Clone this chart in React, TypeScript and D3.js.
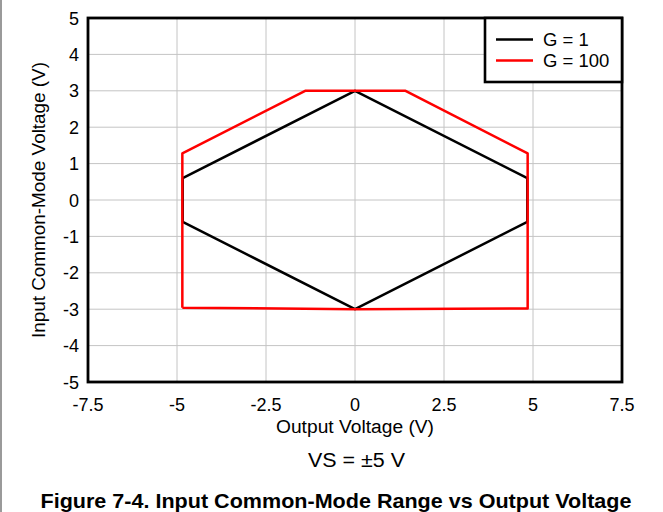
import React from "react";
import * as d3 from "d3";

const xTicks = [-7.5, -5, -2.5, 0, 2.5, 5, 7.5];
const yTicks = [-5, -4, -3, -2, -1, 0, 1, 2, 3, 4, 5];

const g1X = [-4.84, 0, 4.84, 4.84, 0, -4.84, -4.84];
const g1Y = [0.6, 3, 0.6, -0.6, -3, -0.6, 0.6];

const g100X = [-4.85, -4.85, -1.4, 1.42, 4.85, 4.85, 0, -4.85];
const g100Y = [-2.96, 1.28, 3, 3, 1.28, -2.98, -3.0, -2.96];

const seriesNames = ["G = 1", "G = 100"];
const seriesColors = ["#000000", "#ff0000"];

const W = 663;
const H = 512;
const M = { left: 88, right: 622, top: 18, bottom: 382 };
const FONT = "'Liberation Sans', Arial, sans-serif";

export default function App() {
  const x = d3.scaleLinear().domain([-7.5, 7.5]).range([M.left, M.right]);
  const y = d3.scaleLinear().domain([-5, 5]).range([M.bottom, M.top]);
  const line = d3
    .line<[number, number]>()
    .x((d) => x(d[0]))
    .y((d) => y(d[1]));
  const s1 = g1X.map((v, i) => [v, g1Y[i]] as [number, number]);
  const s2 = g100X.map((v, i) => [v, g100Y[i]] as [number, number]);

  return (
    <svg
      width={W}
      height={H}
      style={{ position: "absolute", left: 0, top: 0, background: "#fff" }}
    >
      <rect x={0} y={0} width={W} height={H} fill="#fff" />
      <line x1={1} x2={1} y1={0} y2={H} stroke="#9a9a9a" strokeWidth={2} />
      {/* grid */}
      {xTicks.map((t) => (
        <line
          key={"gx" + t}
          x1={x(t)}
          x2={x(t)}
          y1={M.top}
          y2={M.bottom}
          stroke="#c4c4c4"
          strokeWidth={1}
        />
      ))}
      {yTicks.map((t) => (
        <line
          key={"gy" + t}
          x1={M.left}
          x2={M.right}
          y1={y(t)}
          y2={y(t)}
          stroke="#c4c4c4"
          strokeWidth={1}
        />
      ))}
      {/* data */}
      <path
        d={line(s1) || ""}
        fill="none"
        stroke={seriesColors[0]}
        strokeWidth={2.5}
        strokeLinejoin="round"
      />
      <path
        d={line(s2) || ""}
        fill="none"
        stroke={seriesColors[1]}
        strokeWidth={2.5}
        strokeLinejoin="round"
      />
      {/* frame */}
      <rect
        x={M.left}
        y={M.top}
        width={M.right - M.left}
        height={M.bottom - M.top}
        fill="none"
        stroke="#000"
        strokeWidth={2.8}
      />
      {/* tick labels */}
      {xTicks.map((t) => (
        <text
          key={"tx" + t}
          x={x(t)}
          y={411}
          textAnchor="middle"
          fontFamily={FONT}
          fontSize={18}
          fill="#000"
        >
          {String(t)}
        </text>
      ))}
      {yTicks.map((t) => (
        <text
          key={"ty" + t}
          x={79}
          y={y(t) + 6.5}
          textAnchor="end"
          fontFamily={FONT}
          fontSize={18}
          fill="#000"
        >
          {String(t)}
        </text>
      ))}
      {/* axis titles */}
      <text
        x={355}
        y={433}
        textAnchor="middle"
        fontFamily={FONT}
        fontSize={18}
        fill="#000"
        textLength={158}
        lengthAdjust="spacingAndGlyphs"
      >
        Output Voltage (V)
      </text>
      <text
        transform={`translate(45,${(M.top + M.bottom) / 2}) rotate(-90)`}
        textAnchor="middle"
        fontFamily={FONT}
        fontSize={18}
        fill="#000"
        textLength={276}
        lengthAdjust="spacingAndGlyphs"
      >
        Input Common-Mode Voltage (V)
      </text>
      <text
        x={356.5}
        y={467}
        textAnchor="middle"
        fontFamily={FONT}
        fontSize={19.5}
        fill="#000"
        textLength={97}
        lengthAdjust="spacingAndGlyphs"
      >
        VS = ±5 V
      </text>
      <text
        x={336}
        y={508}
        textAnchor="middle"
        fontFamily={FONT}
        fontSize={20.5}
        fontWeight="bold"
        fill="#000"
        textLength={591}
        lengthAdjust="spacingAndGlyphs"
      >
        Figure 7-4. Input Common-Mode Range vs Output Voltage
      </text>
      {/* legend */}
      <rect
        x={485}
        y={M.top}
        width={M.right - 485}
        height={64}
        fill="#fff"
        stroke="#000"
        strokeWidth={2.6}
      />
      {seriesNames.map((n, i) => (
        <g key={n}>
          <line
            x1={496}
            x2={533}
            y1={39.5 + i * 21}
            y2={39.5 + i * 21}
            stroke={seriesColors[i]}
            strokeWidth={2.5}
          />
          <text
            x={543}
            y={46 + i * 21}
            fontFamily={FONT}
            fontSize={18.5}
            fill="#000"
          >
            {n}
          </text>
        </g>
      ))}
    </svg>
  );
}
